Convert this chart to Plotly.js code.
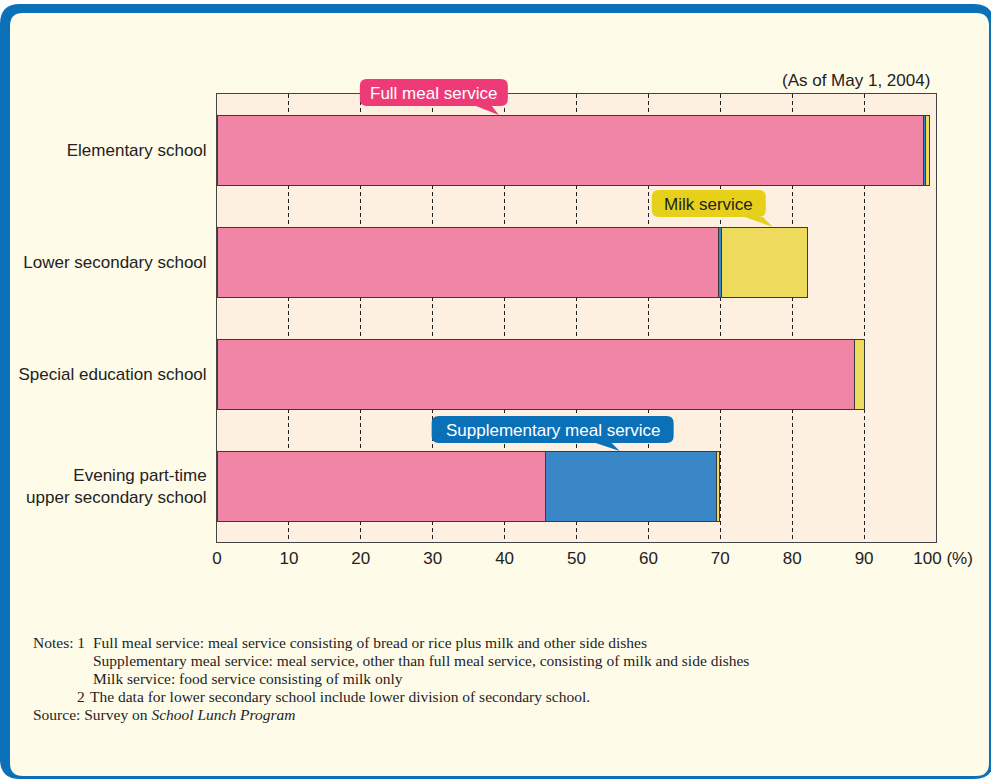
<!DOCTYPE html>
<html>
<head>
<meta charset="utf-8">
<script src="https://cdn.plot.ly/plotly-3.0.1.min.js"></script>
<style>
  html, body { margin: 0; padding: 0; background: #ffffff; }
  #chart { width: 991px; height: 780px; }
</style>
</head>
<body>
<div id="chart"></div>
<script>
// School types (top to bottom) and share of schools by service type (%)
const schools = [
  "Elementary school",
  "Lower secondary school",
  "Special education school",
  "Evening part-time<br>upper secondary school"
];
const fullMeal = [98.3, 69.8, 88.7, 45.7];
const supplementaryMeal = [0.3, 0.3, 0.0, 23.8];
const milkService = [0.5, 12.0, 1.3, 0.4];
const xTicks = [0, 10, 20, 30, 40, 50, 60, 70, 80, 90, 100];
const xTickText = ["0", "10", "20", "30", "40", "50", "60", "70", "80", "90", "\u00a0\u00a0\u00a0100 (%)"];

const FONT = "'Liberation Sans Narrow', 'Arial Narrow', 'Liberation Sans', Arial, sans-serif";
const SERIF = "'Liberation Serif', 'Times New Roman', serif";

// Plot area in page pixels
const L = 217, R = 936, T = 94, B = 542;
const toPaperX = px => (px - L) / (R - L);
const toPaperY = py => (B - py) / (B - T);
// page pixel -> offset from plot's bottom-left corner (y up)
const rel = (px, py) => [px - L, B - py];

function roundRect(x0, y0, x1, y1, r) {
  // x0,y0 top-left, x1,y1 bottom-right in page pixels
  const a = rel(x0, y0), b = rel(x1, y1);
  const left = a[0], right = b[0], top = a[1], bot = b[1];
  return `M${left + r},${bot} L${right - r},${bot} Q${right},${bot} ${right},${bot + r} ` +
         `L${right},${top - r} Q${right},${top} ${right - r},${top} ` +
         `L${left + r},${top} Q${left},${top} ${left},${top - r} ` +
         `L${left},${bot + r} Q${left},${bot} ${left + r},${bot} Z`;
}

// Speech-bubble outline relative to the tail tip (pixels, y up)
function bubble(x0, x1, y0, y1, r, t1, t2) {
  return `M${x0 + r},${y0} L${t1},${y0} L0,0 L${t2},${y0} L${x1 - r},${y0} ` +
         `Q${x1},${y0} ${x1},${y0 + r} L${x1},${y1 - r} Q${x1},${y1} ${x1 - r},${y1} ` +
         `L${x0 + r},${y1} Q${x0},${y1} ${x0},${y1 - r} L${x0},${y0 + r} Q${x0},${y0} ${x0 + r},${y0} Z`;
}

const barLine = { color: "#3a3a3a", width: 1 };
const traces = [
  { name: "Full meal service", x: fullMeal, marker: { color: "#f185a6", line: barLine } },
  { name: "Supplementary meal service", x: supplementaryMeal, marker: { color: "#3a87c8", line: barLine } },
  { name: "Milk service", x: milkService, marker: { color: "#eedb5e", line: barLine } }
].map(t => Object.assign({
  type: "bar", orientation: "h", y: schools.map((s, i) => i),
  hoverinfo: "x+name"
}, t));

const pixelShape = (path, fill) => ({
  type: "path", xref: "paper", yref: "paper", xsizemode: "pixel", ysizemode: "pixel",
  xanchor: 0, yanchor: 0, path: path, fillcolor: fill, line: { width: 0 }, layer: "below"
});

// Bubble tails point at the top edge of a bar; anchors are in paper units
// so the bubbles may extend above the plot area without clipping.
const BAR_WIDTH = 0.625;
const barTopPaper = i => 1 - (i + 0.5 - BAR_WIDTH / 2) / schools.length;

const calloutShape = (xVal, row, path, fill) => ({
  type: "path", xref: "paper", yref: "paper", xsizemode: "pixel", ysizemode: "pixel",
  xanchor: xVal / 100, yanchor: barTopPaper(row), path: path, fillcolor: fill,
  line: { width: 0 }, layer: "above"
});

const shapes = [
  // panel frame
  pixelShape(roundRect(0, 4, 994, 779, 20), "#0a71b9"),
  pixelShape(roundRect(10, 13, 989, 776, 13), "#fffbe9"),
  // plot background
  { type: "rect", xref: "paper", yref: "paper", x0: 0, x1: 1, y0: 0, y1: 1,
    fillcolor: "#fdf0e0", line: { width: 0 }, layer: "below" },
  // callout bubbles
  calloutShape(39.2, 0, bubble(-139, 9, 9, 36, 7, -23, -7), "#ee3b78"),
  calloutShape(77.3, 1, bubble(-121, -7, 10, 37, 7, -28, -10), "#e7d01a"),
  calloutShape(56.0, 3, bubble(-188, 54, 8, 35, 7, -24, -8), "#0a71b9")
];

const calloutText = (xVal, row, dx, dy, text, color) => ({
  xref: "paper", yref: "paper", x: xVal / 100, y: barTopPaper(row), xshift: dx, yshift: dy,
  xanchor: "center", yanchor: "middle", showarrow: false, text: text,
  font: { family: FONT, size: 17, color: color }
});

const noteLine = (px, py, text) => ({
  xref: "paper", yref: "paper", x: toPaperX(px), y: toPaperY(py),
  xanchor: "left", yanchor: "middle", showarrow: false, align: "left", text: text,
  font: { family: SERIF, size: 15.5, color: "#1e1e1e" }
});

const annotations = [
  calloutText(39.2, 0, -65, 22, "Full meal service", "#ffffff"),
  calloutText(77.3, 1, -64, 23, "Milk service", "#222222"),
  calloutText(56.0, 3, -67, 21, "Supplementary meal service", "#ffffff"),
  { xref: "paper", yref: "paper", x: toPaperX(932), y: toPaperY(80), xanchor: "right",
    yanchor: "middle", showarrow: false, text: "(As of May 1, 2004)",
    font: { family: FONT, size: 17, color: "#222222" } },
  noteLine(31, 642, "Notes: 1"),
  noteLine(91, 642, "Full meal service: meal service consisting of bread or rice plus milk and other side dishes"),
  noteLine(91, 660, "Supplementary meal service: meal service, other than full meal service, consisting of milk and side dishes"),
  noteLine(91, 678, "Milk service: food service consisting of milk only"),
  noteLine(75, 696, "2"),
  noteLine(88, 696, "The data for lower secondary school include lower division of secondary school."),
  noteLine(31, 714, "Source: Survey on <i>School Lunch Program</i>")
];

const layout = {
  width: 991, height: 780,
  margin: { l: L, r: 991 - R, t: T, b: 780 - B, pad: 0 },
  paper_bgcolor: "#ffffff",
  plot_bgcolor: "rgba(0,0,0,0)",
  barmode: "stack",
  bargap: 1 - BAR_WIDTH,
  showlegend: false,
  font: { family: FONT, size: 17, color: "#222222" },
  xaxis: {
    range: [0, 100], tickmode: "array", tickvals: xTicks, ticktext: xTickText,
    showgrid: true, gridcolor: "#222222", gridwidth: 1, griddash: "4px,3px",
    zeroline: false, showline: true, linecolor: "#444444", linewidth: 1, mirror: true,
    ticks: "", ticklabelstandoff: 1, fixedrange: true,
    tickfont: { family: FONT, size: 17, color: "#222222" }
  },
  yaxis: {
    range: [3.5, -0.5], tickmode: "array", tickvals: schools.map((s, i) => i), ticktext: schools,
    showgrid: false, zeroline: false, showline: true, linecolor: "#444444", linewidth: 1,
    mirror: true, ticks: "", ticklabelstandoff: 6, fixedrange: true,
    tickfont: { family: FONT, size: 17, color: "#222222" }
  },
  shapes: shapes,
  annotations: annotations
};

Plotly.newPlot("chart", traces, layout, { displayModeBar: false });
</script>
</body>
</html>
